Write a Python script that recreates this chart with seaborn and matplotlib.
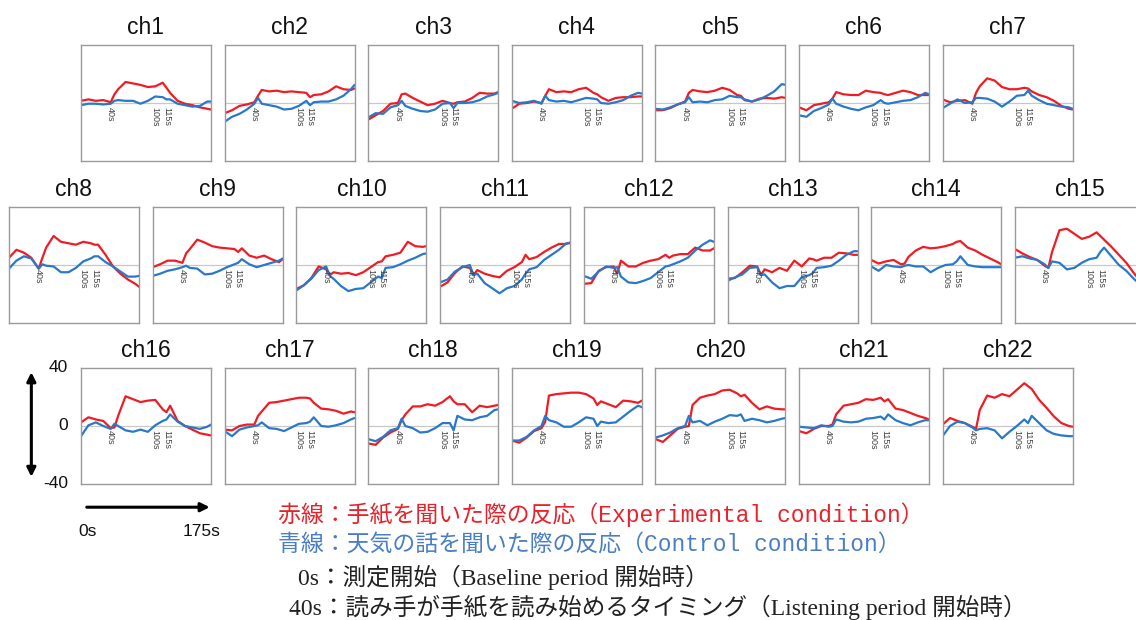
import matplotlib
matplotlib.use("Agg")
import matplotlib.pyplot as plt
import seaborn as sns

sns.set_theme(style="white")
plt.rcParams["font.family"] = ["Liberation Sans", "DejaVu Sans"]

# Datos (eje y en -40..40, eje x en segundos)
tiempo = [0, 10, 20, 30, 40, 45, 50, 60, 70, 80, 90, 100, 110, 115, 120, 130, 140, 150, 160, 170, 175]
canales = [f"ch{i}" for i in range(1, 23)]
marcas = [40, 100, 115]
marcas_texto = ["40s", "100s", "115s"]

# Condición experimental (línea roja)
rojo = [
    [1.5, 2.5, 1.5, 2, 0.5, 6, 9.5, 14.5, 13.5, 12.5, 11, 11.5, 14, 10.5, 7, 1.5, -0.5, -1.5, -3, -4, -4.5],
    [-7, -5, -2, -1, 0.5, 5, 9, 8, 8.5, 7.5, 8, 7.5, 7, 4, 5.5, 6, 8, 11.5, 9.5, 9, 10],
    [-11.5, -8.5, -5.5, -0.5, 0, 6, 6.5, 3.5, 1, -1.5, -0.5, 1.5, 0, -0.5, 0.5, 1, 3.5, 7, 6.5, 6.5, 7.5],
    [-4, -0.5, 0, 1, 0, 5, 9.5, 7.5, 8, 7.5, 9.5, 10.5, 7, 6, 4, 1.5, 3.5, 4, 4, 4.5, 4.5],
    [-5, -5, -3.5, -1, 1, 7, 9, 8, 7.5, 8.5, 10.5, 9, 5.5, 5, 2, 1, 3, 3.5, 3, 4, 3.5],
    [-3, -5, -1.5, -0.5, 0.5, 3, 7.5, 6, 5.5, 5.5, 8.5, 7.5, 7, 6, 5.5, 7, 8.5, 7.5, 5.5, 5.5, 5.5],
    [2.5, 0.5, 1.5, 2, -0.5, 7, 11.5, 17, 15.5, 11, 9.5, 9.5, 10.5, 10, 8, 5.5, 4, 1.5, -2, -4, -4.5],
    [5, 10.5, 8.5, 5, -2.5, 5, 12, 20, 16, 15, 14, 16, 15, 14, 14, 7, -1, -6, -10, -13, -15],
    [-1.5, 0.5, 3, 3, 1.5, 8, 11, 17.5, 15.5, 13, 12, 11.5, 11, 9, 11.5, 6.5, 5, 6.5, 4, 2, 4],
    [-16.5, -14, -9, -1, -3, -7, -5, -6, -5.5, -7, -5, -1.5, 2, 2.5, 6, 7, 8.5, 16, 13, 12.5, 13],
    [-15, -12, -5.5, -1, -2, -7, -3.5, -6, -7.5, -8.5, -4, -1.5, 2, 7, 4, 5.5, 9, 12, 14.5, 14.5, 15.5],
    [-13, -12.5, -4, -1.5, -1, -6, 3, -1, -1, 1.5, 3, 4, 7, 5, 6.5, 7.5, 7.5, 12, 10, 10, 11.5],
    [-9.5, -9, -5, -0.5, -1, -7, -3, -5, -2, -4, 3, -1, 4.5, 4, 3, 5, 5, 8.5, 8, 7, 7],
    [3.5, 1, 2.5, 3.5, 0.5, 1, 5.5, 10, 12.5, 11.5, 12, 13, 14.5, 16, 16.5, 12, 10, 7, 4.5, 2, 0.5],
    [11, 8, 5.5, 3.5, -0.5, -2, 9, 24, 25, 21.5, 18, 19.5, 22.5, 20, 17.5, 12.5, 7, 1.5, -5.5, -12, -15],
    [2.5, 6, 4.5, 3.5, -1.5, -1, 7, 20.5, 18.5, 16.5, 17.5, 18, 11.5, 9.5, 14, 3.5, 0, -2.5, -5, -6, -6.5],
    [-2.5, -3, 0, 1, 1, 7, 10, 16, 16.5, 17.5, 18.5, 19.5, 19.5, 19, 16, 12, 11.5, 10.5, 8.5, 10, 9.5],
    [-12, -13, -8, -4.5, -2, 4, 8, 13.5, 13.5, 15, 14, 16.5, 20.5, 17, 15, 15, 9.5, 14, 13, 14, 14.5],
    [-10, -11.5, -8, -3.5, -1.5, 3, 21, 22, 22.5, 23, 23, 22, 19, 14.5, 17, 15, 13, 17.5, 17, 16, 17.5],
    [-9, -11, -6.5, -2, -0.5, 0, 14.5, 19.5, 21, 22, 24.5, 25, 22.5, 20.5, 21.5, 16, 11.5, 13.5, 12, 11.5, 11.5],
    [-3.5, -5, -2, 0, 0, 1, 8, 14, 15, 16, 18.5, 18, 19.5, 17, 18.5, 12, 11, 9, 7, 5.5, 4.5],
    [1, 5.5, 3.5, 2, -0.5, -2, 11, 21, 19.5, 22, 20.5, 25, 29.5, 27.5, 25.5, 18, 12.5, 6.5, 2, 0, -0.5],
]

# Condición control (línea azul)
azul = [
    [-1.5, -0.5, -0.5, -1, -0.5, 1.5, 2, 1.5, 1.5, -0.5, 1.5, 4.5, 4, 2.5, 2.5, -0.5, -1.5, -2.5, -2, 1, 1],
    [-13, -9.5, -7.5, -4.5, -0.5, 3.5, -0.5, -1.5, -2.5, -4.5, -4, -2, 1.5, -1.5, 0.5, 1, 1, 2.5, 5, 9.5, 12.5],
    [-10, -7, -7.5, -3, -1.5, 1.5, -2, -4, -5.5, -6, -4.5, -0.5, 0, -3.5, 0, 0, 0.5, 2, 4.5, 6, 7],
    [1.5, 0, 0.5, 1.5, -0.5, 5, 2, 1, 1.5, 0.5, 2, 3.5, 3, 2.5, 0, -0.5, 0.5, 2, 5, 7, 6.5],
    [-4, -4.5, -3, -1, 0.5, 4, 0.5, 1, 0.5, 2, 2.5, 5, 4, 4, 2.5, 1, 2.5, 5, 8, 13, 12.5],
    [-8.5, -9.5, -5.5, -3.5, -1, 3, -0.5, -2.5, -4, -5, -3, -1.5, 2, 0, -0.5, 0.5, 1.5, 2, 4, 7, 6],
    [-3.5, -0.5, 2.5, 0, 0.5, 3.5, 3.5, 3, 1, -2.5, 1, 5, 5.5, 8.5, 5, 2, -0.5, -1.5, -2.5, -3, -4],
    [-2.5, 3, 6, 4.5, -2.5, 0.5, -0.5, -1, -5, -5, -2, 2.5, 4.5, 6, 6, 2, -1, -4.5, -8, -8, -7.5],
    [-7.5, -6, -4, -3, -1.5, -0.5, -2, -2.5, -6.5, -6, -4, -1.5, 0.5, 1.5, 4, 0.5, -1.5, 0, 1.5, 3, 4.5],
    [-17.5, -14, -9.5, -3.5, -1, -7.5, -9.5, -14.5, -18, -16.5, -16, -12, -8, -9, -2, -1.5, 0.5, 3, 5, 7.5, 8],
    [-12, -10, -4.5, -1.5, 0, -7, -6, -12.5, -16, -19.5, -16, -14.5, -10, -6, -3, -1.5, 3.5, 7, 10.5, 15, 15],
    [-7.5, -9.5, -4.5, -1, -2, -1.5, -8, -12, -12.5, -11, -9, -5, -1, -0.5, 0.5, 2.5, 5, 10, 14, 17, 16],
    [-11, -8.5, -6.5, -2, -1.5, -7, -6.5, -12, -16, -14.5, -14.5, -8.5, -7, -5.5, -2, -1.5, -0.5, 3, 7, 9.5, 9.5],
    [-1, -4, 0, -1, -1.5, -0.5, 0, -1, -1, -5, -2, 0, 0.5, 2.5, 6, 0, -1, -1.5, -1.5, -1.5, -1.5],
    [5, 6, 4.5, 3.5, 0.5, -2, 2.5, 1.5, -3, -2, 1.5, 4, 5, 9, 12, 6, 0, -4, -9.5, -14, -15],
    [-7, 0.5, 2.5, 0, -2, 1.5, 0, -3, -4, -2.5, -4, 0.5, 3.5, 4.5, 8, 3, 0, -1, -2, -0.5, 1],
    [-3.5, -7, -2.5, -1, 0, 0.5, 2.5, -1.5, -2, -3.5, -1, 1.5, 2, 3, 6, 0, -0.5, 0.5, 2, 4.5, 5.5],
    [-9, -10.5, -7.5, -3, -1.5, 5, 0, -1.5, -4.5, -4, -1.5, 2, 2, -3, 7, 4.5, 4, 6, 7, 11, 11.5],
    [-10, -10, -7.5, -3, 0, 7, 4, 2.5, -0.5, -0.5, 2.5, 6, 5, 0, 3, 2, 2.5, 6.5, 10.5, 14, 13],
    [-8, -6.5, -4.5, -1.5, 0, 7, 2.5, 3.5, 0.5, 3, 5, 7.5, 7, 8, 3.5, 5, 4, 2.5, 3.5, 5, 5.5],
    [-0.5, -1, -1.5, 0.5, -0.5, 0, 4.5, 3, 2.5, 3, 5, 5.5, 6.5, 4.5, 8, 4, 2, 0.5, 2.5, 4, 4],
    [-7, 0, 3, 2, -1, -3, -2, -1.5, -3, -8.5, -4, 0, 4.5, 2, 7, 2, -3, -5.5, -6.5, -7, -7],
]

COLOR_ROJO = "#f01c24"
COLOR_AZUL = "#2a78c8"

W, H = 1136, 620
fig = plt.figure(figsize=(W / 100, H / 100), dpi=100)
fig.patch.set_facecolor("white")

# (borde superior, nº de paneles, x inicial, paso) en píxeles
filas = [(45, 7, 81, 143.6), (207, 8, 9, 143.7), (368, 7, 81, 143.6)]
panel_w, panel_h = 130, 116

ejes = []
k = 0
for top, n, x0, paso in filas:
    for j in range(n):
        left = x0 + j * paso
        ax = fig.add_axes([left / W, 1 - (top + panel_h) / H, panel_w / W, panel_h / H])
        ax.axhline(0, color="#c8c8c8", lw=0.9, zorder=0)
        sns.lineplot(x=tiempo, y=rojo[k], ax=ax, color=COLOR_ROJO, linewidth=1.6)
        sns.lineplot(x=tiempo, y=azul[k], ax=ax, color=COLOR_AZUL, linewidth=1.6)
        ax.set_xlim(0, 175)
        ax.set_ylim(-40, 40)
        ax.set_xticks([])
        ax.set_yticks([])
        ax.set_xlabel("")
        ax.set_ylabel("")
        for s in ax.spines.values():
            s.set_color("#9a9a9a")
            s.set_linewidth(1.0)
        ax.set_title(canales[k], fontsize=16.5, pad=8, color="#111111")
        for m, txt in zip(marcas, marcas_texto):
            ax.text(m, -3, txt, rotation=270, ha="center", va="top",
                    fontsize=6.5, color="#444444")
        ejes.append(ax)
        k += 1

# Escalas de referencia junto a ch16
ax16 = ejes[15]
ax16.annotate("", xy=(-0.382, 39), xytext=(-0.382, -37),
              xycoords=ax16.get_yaxis_transform(), textcoords=ax16.get_yaxis_transform(),
              arrowprops=dict(arrowstyle="<|-|>", color="black", lw=2.2, mutation_scale=13),
              annotation_clip=False)
for v, txt in [(40, "40"), (0, "0"), (-40, "-40")]:
    ax16.text(-0.1, v, txt, transform=ax16.get_yaxis_transform(), ha="right", va="center",
              fontsize=12.5, color="#111111")
ax16.annotate("", xy=(177, -0.2), xytext=(4, -0.2),
              xycoords=ax16.get_xaxis_transform(), textcoords=ax16.get_xaxis_transform(),
              arrowprops=dict(arrowstyle="-|>", color="black", lw=2.2, mutation_scale=13),
              annotation_clip=False)
ax16.text(8.5, -0.41, "0s", transform=ax16.get_xaxis_transform(), ha="center", va="center",
          fontsize=12.5, color="#111111")
ax16.text(162, -0.41, "175s", transform=ax16.get_xaxis_transform(), ha="center", va="center",
          fontsize=12.5, color="#111111")

# Leyenda en texto
mono_cjk = ["Liberation Mono", "Noto Sans CJK JP"]
serif_cjk = ["Liberation Serif", "Noto Sans CJK JP"]
fig.text(278 / W, 1 - 515 / H, "赤線：手紙を聞いた際の反応（Experimental condition）",
         family=mono_cjk, fontsize=16.5, color="#e8222a", va="center")
fig.text(278 / W, 1 - 545 / H, "青線：天気の話を聞いた際の反応（Control condition）",
         family=mono_cjk, fontsize=16.5, color="#4a7ec4", va="center")
fig.text(298 / W, 1 - 577 / H, "0s：測定開始（Baseline period 開始時）",
         family=serif_cjk, fontsize=17, color="#222222", va="center")
fig.text(289 / W, 1 - 607 / H, "40s：読み手が手紙を読み始めるタイミング（Listening period 開始時）",
         family=serif_cjk, fontsize=17, color="#222222", va="center")

fig.savefig("out.png", dpi=100, facecolor="white")
